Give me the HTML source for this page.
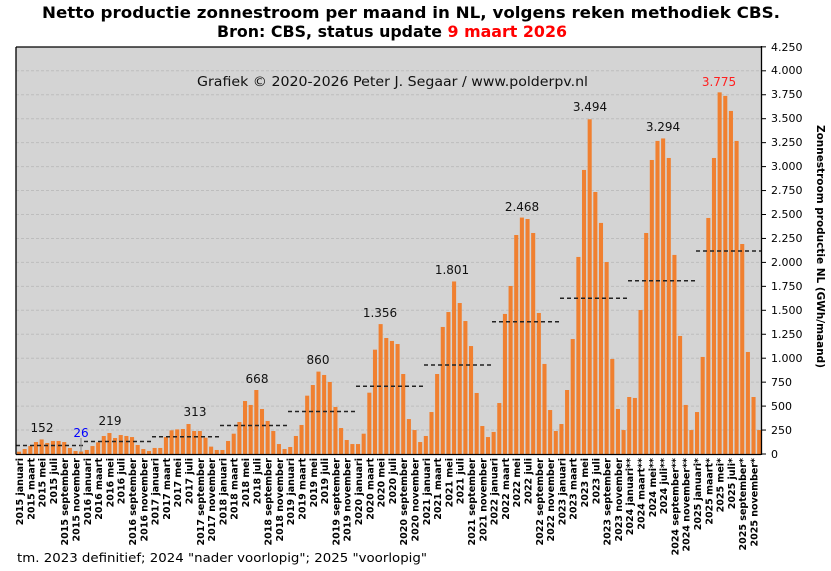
<!DOCTYPE html>
<html><head><meta charset="utf-8"><style>
html,body{margin:0;padding:0;background:#fff;}
svg{display:block;}
text{font-family:"DejaVu Sans","Liberation Sans",sans-serif;}
.xl{font-size:9.5px;font-weight:bold;fill:#000;}
.yl{font-size:11px;fill:#000;}
.pk{font-size:12px;fill:#111;text-anchor:middle;}
</style></head><body>
<svg width="831" height="571" viewBox="0 0 831 571" xmlns="http://www.w3.org/2000/svg">
<rect x="0" y="0" width="831" height="571" fill="#fff"/>
<text x="42" y="18" font-size="16" font-weight="bold" textLength="738" lengthAdjust="spacingAndGlyphs">Netto productie zonnestroom per maand in NL, volgens reken methodiek CBS.</text>
<text x="217" y="37" font-size="16" font-weight="bold" textLength="350" lengthAdjust="spacingAndGlyphs">Bron: CBS, status update <tspan fill="#ff0000">9 maart 2026</tspan></text>
<rect x="16" y="47" width="745" height="407" fill="#d4d4d4"/>
<g stroke="#bdbdbd" stroke-width="1" stroke-dasharray="3,2">
<line x1="16" x2="761" y1="430.05" y2="430.05"/>
<line x1="16" x2="761" y1="406.1" y2="406.1"/>
<line x1="16" x2="761" y1="382.15" y2="382.15"/>
<line x1="16" x2="761" y1="358.2" y2="358.2"/>
<line x1="16" x2="761" y1="334.25" y2="334.25"/>
<line x1="16" x2="761" y1="310.3" y2="310.3"/>
<line x1="16" x2="761" y1="286.35" y2="286.35"/>
<line x1="16" x2="761" y1="262.4" y2="262.4"/>
<line x1="16" x2="761" y1="238.45" y2="238.45"/>
<line x1="16" x2="761" y1="214.5" y2="214.5"/>
<line x1="16" x2="761" y1="190.55" y2="190.55"/>
<line x1="16" x2="761" y1="166.6" y2="166.6"/>
<line x1="16" x2="761" y1="142.65" y2="142.65"/>
<line x1="16" x2="761" y1="118.7" y2="118.7"/>
<line x1="16" x2="761" y1="94.75" y2="94.75"/>
<line x1="16" x2="761" y1="70.8" y2="70.8"/>
</g>
<text x="197" y="86" font-size="13" fill="#111" textLength="391" lengthAdjust="spacingAndGlyphs">Grafiek  © 2020-2026  Peter J. Segaar / www.polderpv.nl</text>
<g fill="#f08030" transform="translate(17,454) scale(5.65,-0.0958)">
<rect x="0" width=".72" height="24"/><rect x="1" width=".72" height="52"/><rect x="2" width=".72" height="83"/><rect x="3" width=".72" height="125"/><rect x="4" width=".72" height="152"/><rect x="5" width=".72" height="115"/><rect x="6" width=".72" height="136"/><rect x="7" width=".72" height="136"/><rect x="8" width=".72" height="125"/><rect x="9" width=".72" height="63"/><rect x="10" width=".72" height="31"/><rect x="11" width=".72" height="26"/>
<rect x="12" width=".72" height="42"/><rect x="13" width=".72" height="83"/><rect x="14" width=".72" height="122"/><rect x="15" width=".72" height="188"/><rect x="16" width=".72" height="219"/><rect x="17" width=".72" height="167"/><rect x="18" width=".72" height="198"/><rect x="19" width=".72" height="188"/><rect x="20" width=".72" height="177"/><rect x="21" width=".72" height="94"/><rect x="22" width=".72" height="52"/><rect x="23" width=".72" height="31"/>
<rect x="24" width=".72" height="63"/><rect x="25" width=".72" height="63"/><rect x="26" width=".72" height="177"/><rect x="27" width=".72" height="247"/><rect x="28" width=".72" height="257"/><rect x="29" width=".72" height="261"/><rect x="30" width=".72" height="313"/><rect x="31" width=".72" height="240"/><rect x="32" width=".72" height="240"/><rect x="33" width=".72" height="170"/><rect x="34" width=".72" height="77"/><rect x="35" width=".72" height="42"/>
<rect x="36" width=".72" height="42"/><rect x="37" width=".72" height="136"/><rect x="38" width=".72" height="212"/><rect x="39" width=".72" height="334"/><rect x="40" width=".72" height="553"/><rect x="41" width=".72" height="512"/><rect x="42" width=".72" height="668"/><rect x="43" width=".72" height="470"/><rect x="44" width=".72" height="345"/><rect x="45" width=".72" height="240"/><rect x="46" width=".72" height="104"/><rect x="47" width=".72" height="52"/>
<rect x="48" width=".72" height="73"/><rect x="49" width=".72" height="188"/><rect x="50" width=".72" height="303"/><rect x="51" width=".72" height="609"/><rect x="52" width=".72" height="720"/><rect x="53" width=".72" height="860"/><rect x="54" width=".72" height="825"/><rect x="55" width=".72" height="752"/><rect x="56" width=".72" height="491"/><rect x="57" width=".72" height="271"/><rect x="58" width=".72" height="146"/><rect x="59" width=".72" height="104"/>
<rect x="60" width=".72" height="104"/><rect x="61" width=".72" height="212"/><rect x="62" width=".72" height="640"/><rect x="63" width=".72" height="1089"/><rect x="64" width=".72" height="1356"/><rect x="65" width=".72" height="1211"/><rect x="66" width=".72" height="1180"/><rect x="67" width=".72" height="1148"/><rect x="68" width=".72" height="835"/><rect x="69" width=".72" height="365"/><rect x="70" width=".72" height="250"/><rect x="71" width=".72" height="125"/>
<rect x="72" width=".72" height="188"/><rect x="73" width=".72" height="438"/><rect x="74" width=".72" height="835"/><rect x="75" width=".72" height="1326"/><rect x="76" width=".72" height="1482"/><rect x="77" width=".72" height="1801"/><rect x="78" width=".72" height="1576"/><rect x="79" width=".72" height="1388"/><rect x="80" width=".72" height="1127"/><rect x="81" width=".72" height="637"/><rect x="82" width=".72" height="292"/><rect x="83" width=".72" height="177"/>
<rect x="84" width=".72" height="230"/><rect x="85" width=".72" height="532"/><rect x="86" width=".72" height="1462"/><rect x="87" width=".72" height="1754"/><rect x="88" width=".72" height="2286"/><rect x="89" width=".72" height="2468"/><rect x="90" width=".72" height="2453"/><rect x="91" width=".72" height="2307"/><rect x="92" width=".72" height="1472"/><rect x="93" width=".72" height="940"/><rect x="94" width=".72" height="459"/><rect x="95" width=".72" height="240"/>
<rect x="96" width=".72" height="313"/><rect x="97" width=".72" height="668"/><rect x="98" width=".72" height="1200"/><rect x="99" width=".72" height="2057"/><rect x="100" width=".72" height="2965"/><rect x="101" width=".72" height="3494"/><rect x="102" width=".72" height="2735"/><rect x="103" width=".72" height="2412"/><rect x="104" width=".72" height="2004"/><rect x="105" width=".72" height="992"/><rect x="106" width=".72" height="470"/><rect x="107" width=".72" height="250"/>
<rect x="108" width=".72" height="595"/><rect x="109" width=".72" height="585"/><rect x="110" width=".72" height="1503"/><rect x="111" width=".72" height="2307"/><rect x="112" width=".72" height="3069"/><rect x="113" width=".72" height="3268"/><rect x="114" width=".72" height="3294"/><rect x="115" width=".72" height="3090"/><rect x="116" width=".72" height="2078"/><rect x="117" width=".72" height="1232"/><rect x="118" width=".72" height="512"/><rect x="119" width=".72" height="250"/>
<rect x="120" width=".72" height="438"/><rect x="121" width=".72" height="1013"/><rect x="122" width=".72" height="2464"/><rect x="123" width=".72" height="3090"/><rect x="124" width=".72" height="3775"/><rect x="125" width=".72" height="3738"/><rect x="126" width=".72" height="3581"/><rect x="127" width=".72" height="3268"/><rect x="128" width=".72" height="2192"/><rect x="129" width=".72" height="1065"/><rect x="130" width=".72" height="595"/><rect x="131" width=".72" height="250"/>
</g>
<g stroke="#222" stroke-width="1.5" stroke-dasharray="4,3">
<line x1="16" x2="83" y1="445.5" y2="445.5"/>
<line x1="84" x2="151" y1="441.5" y2="441.5"/>
<line x1="152" x2="219" y1="436.8" y2="436.8"/>
<line x1="220" x2="287" y1="425.5" y2="425.5"/>
<line x1="288" x2="355" y1="411.5" y2="411.5"/>
<line x1="356" x2="423" y1="386.3" y2="386.3"/>
<line x1="424" x2="491" y1="365" y2="365"/>
<line x1="492" x2="559" y1="321.8" y2="321.8"/>
<line x1="560" x2="627" y1="298.2" y2="298.2"/>
<line x1="628" x2="695" y1="280.8" y2="280.8"/>
<line x1="696" x2="761" y1="251" y2="251"/>
</g>
<line x1="81" x2="81" y1="438" y2="452" stroke="#888" stroke-width="1"/>
<text class="pk" x="42" y="432">152</text>
<text class="pk" x="81" y="437" style="fill:#0000ff">26</text>
<text class="pk" x="110" y="425">219</text>
<text class="pk" x="195" y="416">313</text>
<text class="pk" x="257" y="383">668</text>
<text class="pk" x="318" y="364">860</text>
<text class="pk" x="380" y="317">1.356</text>
<text class="pk" x="452" y="274">1.801</text>
<text class="pk" x="522" y="211">2.468</text>
<text class="pk" x="590" y="111">3.494</text>
<text class="pk" x="663" y="131">3.294</text>
<text class="pk" x="719" y="86" style="fill:#ff2020">3.775</text>
<g stroke="#000" stroke-width="1.3" fill="none">
<line x1="16" y1="47" x2="761" y2="47"/>
<line x1="16" y1="47" x2="16" y2="454.5"/>
<line x1="16" y1="454.5" x2="761" y2="454.5"/>
<line x1="761.5" y1="46" x2="761.5" y2="455"/>
</g>
<g stroke="#000" stroke-width="1">
<line x1="761" x2="766" y1="454" y2="454"/><line x1="761" x2="766" y1="430.05" y2="430.05"/><line x1="761" x2="766" y1="406.1" y2="406.1"/><line x1="761" x2="766" y1="382.15" y2="382.15"/><line x1="761" x2="766" y1="358.2" y2="358.2"/><line x1="761" x2="766" y1="334.25" y2="334.25"/><line x1="761" x2="766" y1="310.3" y2="310.3"/><line x1="761" x2="766" y1="286.35" y2="286.35"/><line x1="761" x2="766" y1="262.4" y2="262.4"/><line x1="761" x2="766" y1="238.45" y2="238.45"/><line x1="761" x2="766" y1="214.5" y2="214.5"/><line x1="761" x2="766" y1="190.55" y2="190.55"/><line x1="761" x2="766" y1="166.6" y2="166.6"/><line x1="761" x2="766" y1="142.65" y2="142.65"/><line x1="761" x2="766" y1="118.7" y2="118.7"/><line x1="761" x2="766" y1="94.75" y2="94.75"/><line x1="761" x2="766" y1="70.8" y2="70.8"/><line x1="761" x2="766" y1="46.85" y2="46.85"/>
</g>
<g class="yl">
<text x="771" y="458">0</text>
<text x="771" y="434">250</text>
<text x="771" y="410">500</text>
<text x="771" y="386">750</text>
<text x="771" y="362">1.000</text>
<text x="771" y="338">1.250</text>
<text x="771" y="314">1.500</text>
<text x="771" y="290">1.750</text>
<text x="771" y="266">2.000</text>
<text x="771" y="242">2.250</text>
<text x="771" y="218">2.500</text>
<text x="771" y="194">2.750</text>
<text x="771" y="170">3.000</text>
<text x="771" y="146">3.250</text>
<text x="771" y="122">3.500</text>
<text x="771" y="98">3.750</text>
<text x="771" y="74">4.000</text>
<text x="771" y="51">4.250</text>
</g>
<text transform="translate(817,125) rotate(90)" font-size="11" font-weight="bold" textLength="243" lengthAdjust="spacingAndGlyphs">Zonnestroom productie NL (GWh/maand)</text>
<g class="xl" text-anchor="end">
<text transform="translate(23,458) rotate(-90)">2015 januari</text>
<text transform="translate(34.3,458) rotate(-90)">2015 maart</text>
<text transform="translate(45.6,458) rotate(-90)">2015 mei</text>
<text transform="translate(56.9,458) rotate(-90)">2015 juli</text>
<text transform="translate(68.2,458) rotate(-90)">2015 september</text>
<text transform="translate(79.5,458) rotate(-90)">2015 november</text>
<text transform="translate(90.8,458) rotate(-90)">2016 januari</text>
<text transform="translate(102.1,458) rotate(-90)">2016 maart</text>
<text transform="translate(113.4,458) rotate(-90)">2016 mei</text>
<text transform="translate(124.7,458) rotate(-90)">2016 juli</text>
<text transform="translate(136,458) rotate(-90)">2016 september</text>
<text transform="translate(147.3,458) rotate(-90)">2016 november</text>
<text transform="translate(158.6,458) rotate(-90)">2017 januari</text>
<text transform="translate(169.9,458) rotate(-90)">2017 maart</text>
<text transform="translate(181.2,458) rotate(-90)">2017 mei</text>
<text transform="translate(192.5,458) rotate(-90)">2017 juli</text>
<text transform="translate(203.8,458) rotate(-90)">2017 september</text>
<text transform="translate(215.1,458) rotate(-90)">2017 november</text>
<text transform="translate(226.4,458) rotate(-90)">2018 januari</text>
<text transform="translate(237.7,458) rotate(-90)">2018 maart</text>
<text transform="translate(249,458) rotate(-90)">2018 mei</text>
<text transform="translate(260.3,458) rotate(-90)">2018 juli</text>
<text transform="translate(271.6,458) rotate(-90)">2018 september</text>
<text transform="translate(282.9,458) rotate(-90)">2018 november</text>
<text transform="translate(294.2,458) rotate(-90)">2019 januari</text>
<text transform="translate(305.5,458) rotate(-90)">2019 maart</text>
<text transform="translate(316.8,458) rotate(-90)">2019 mei</text>
<text transform="translate(328.1,458) rotate(-90)">2019 juli</text>
<text transform="translate(339.4,458) rotate(-90)">2019 september</text>
<text transform="translate(350.7,458) rotate(-90)">2019 november</text>
<text transform="translate(362,458) rotate(-90)">2020 januari</text>
<text transform="translate(373.3,458) rotate(-90)">2020 maart</text>
<text transform="translate(384.6,458) rotate(-90)">2020 mei</text>
<text transform="translate(395.9,458) rotate(-90)">2020 juli</text>
<text transform="translate(407.2,458) rotate(-90)">2020 september</text>
<text transform="translate(418.5,458) rotate(-90)">2020 november</text>
<text transform="translate(429.8,458) rotate(-90)">2021 januari</text>
<text transform="translate(441.1,458) rotate(-90)">2021 maart</text>
<text transform="translate(452.4,458) rotate(-90)">2021 mei</text>
<text transform="translate(463.7,458) rotate(-90)">2021 juli</text>
<text transform="translate(475,458) rotate(-90)">2021 september</text>
<text transform="translate(486.3,458) rotate(-90)">2021 november</text>
<text transform="translate(497.6,458) rotate(-90)">2022 januari</text>
<text transform="translate(508.9,458) rotate(-90)">2022 maart</text>
<text transform="translate(520.2,458) rotate(-90)">2022 mei</text>
<text transform="translate(531.5,458) rotate(-90)">2022 juli</text>
<text transform="translate(542.8,458) rotate(-90)">2022 september</text>
<text transform="translate(554.1,458) rotate(-90)">2022 november</text>
<text transform="translate(565.4,458) rotate(-90)">2023 januari</text>
<text transform="translate(576.7,458) rotate(-90)">2023 maart</text>
<text transform="translate(588,458) rotate(-90)">2023 mei</text>
<text transform="translate(599.3,458) rotate(-90)">2023 juli</text>
<text transform="translate(610.6,458) rotate(-90)">2023 september</text>
<text transform="translate(621.9,458) rotate(-90)">2023 november</text>
<text transform="translate(633.2,458) rotate(-90)">2024 januari**</text>
<text transform="translate(644.5,458) rotate(-90)">2024 maart**</text>
<text transform="translate(655.8,458) rotate(-90)">2024 mei**</text>
<text transform="translate(667.1,458) rotate(-90)">2024 juli**</text>
<text transform="translate(678.4,458) rotate(-90)">2024 september**</text>
<text transform="translate(689.7,458) rotate(-90)">2024 november**</text>
<text transform="translate(701,458) rotate(-90)">2025 januari*</text>
<text transform="translate(712.3,458) rotate(-90)">2025 maart*</text>
<text transform="translate(723.6,458) rotate(-90)">2025 mei*</text>
<text transform="translate(734.9,458) rotate(-90)">2025 juli*</text>
<text transform="translate(746.2,458) rotate(-90)">2025 september*</text>
<text transform="translate(757.5,458) rotate(-90)">2025 november*</text>
</g>
<text x="17" y="562" font-size="12" fill="#000" textLength="410" lengthAdjust="spacingAndGlyphs">tm. 2023 definitief;  2024 "nader voorlopig";  2025 "voorlopig"</text>
</svg>
</body></html>
